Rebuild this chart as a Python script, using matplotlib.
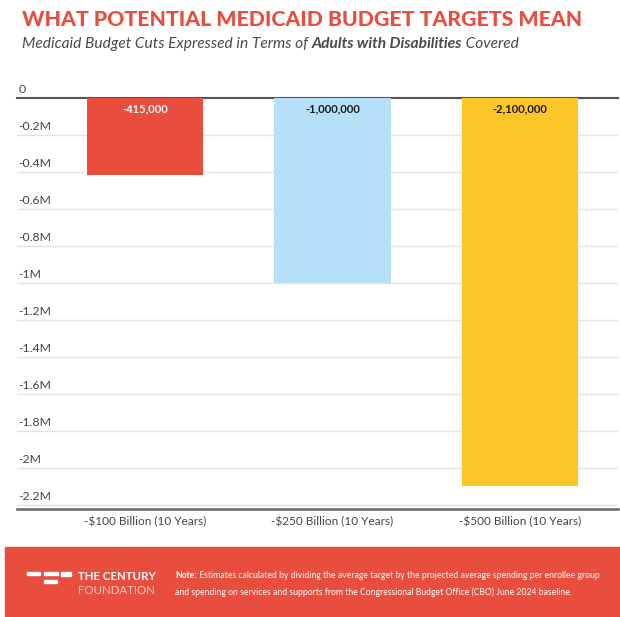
import matplotlib
matplotlib.use("Agg")
import matplotlib.pyplot as plt
from matplotlib.patches import Rectangle
from matplotlib.transforms import blended_transform_factory

# data
categories = ["-$100 Billion (10 Years)", "-$250 Billion (10 Years)", "-$500 Billion (10 Years)"]
values = [-415000, -1000000, -2100000]
value_labels = ["-415,000", "-1,000,000", "-2,100,000"]
bar_colors = ["#E84D3D", "#B5E0F8", "#FDC628"]
label_colors = ["white", "#1a1a1a", "#1a1a1a"]
tick_values = [0, -200000, -400000, -600000, -800000, -1000000, -1200000,
               -1400000, -1600000, -1800000, -2000000, -2200000]
tick_labels = ["0", "-0.2M", "-0.4M", "-0.6M", "-0.8M", "-1M", "-1.2M",
               "-1.4M", "-1.6M", "-1.8M", "-2M", "-2.2M"]

RED = "#E84D3D"
FONT = ["Lato", "DejaVu Sans"]
plt.rcParams["font.family"] = FONT

W, H = 620, 617
fig = plt.figure(figsize=(W / 100, H / 100), dpi=100)
ax = fig.add_axes([17 / W, 1 - 509 / H, (618 - 17) / W, (509 - 98) / H])

x = list(range(len(categories)))
ax.bar(x, values, width=0.62, color=bar_colors, zorder=3)
ax.set_xlim(-0.683, 2.523)
ax.set_ylim(-2.222e6, 0)

for v in tick_values[1:]:
    ax.axhline(v, color="#e3e3e3", lw=1, zorder=1)
trans = blended_transform_factory(ax.transAxes, ax.transData)
for v, lab in zip(tick_values, tick_labels):
    ax.text(0.002, v + 14000, lab, transform=trans, ha="left", va="bottom",
            fontsize=8.8, color="#444444")

for xi, v, lab, c in zip(x, values, value_labels, label_colors):
    ax.text(xi, -60000, lab, ha="center", va="center", fontsize=8,
            fontweight="bold", color=c, zorder=4)

ax.set_yticks([])
ax.set_xticks(x)
ax.set_xticklabels(categories, fontsize=8.5, color="#444444")
ax.tick_params(axis="x", length=0, pad=5)
for s in ["left", "right"]:
    ax.spines[s].set_visible(False)
ax.spines["top"].set_color("#555555")
ax.spines["top"].set_linewidth(1.5)
ax.spines["bottom"].set_color("#666666")
ax.spines["bottom"].set_linewidth(1.8)

# title and subtitle
fig.text(22 / W, 1 - 19 / H, "WHAT POTENTIAL MEDICAID BUDGET TARGETS MEAN",
         fontsize=15.3, fontweight="black", color=RED, va="center")

parts = [("Medicaid Budget Cuts Expressed in Terms of ", "normal"),
         ("Adults with Disabilities", "bold"),
         (" Covered", "normal")]
fig.canvas.draw()
renderer = fig.canvas.get_renderer()
xpos = 22 / W
for txt, wt in parts:
    t = fig.text(xpos, 1 - 44 / H, txt, fontsize=11.2, style="italic",
                 fontweight=wt, color="#4a4a4a", va="center")
    bb = t.get_window_extent(renderer=renderer)
    xpos += bb.width / W

# footer band
fig.patches.append(Rectangle((5 / W, 0), (W - 5) / W, (617 - 547) / H,
                             transform=fig.transFigure, color=RED, zorder=0))
for (x0, x1, y0, y1) in [(27, 40, 572, 575), (44, 58, 572, 575), (61, 71, 572, 576),
                         (44, 57, 580, 583)]:
    fig.patches.append(Rectangle((x0 / W, 1 - y1 / H), (x1 - x0) / W, (y1 - y0) / H,
                                 transform=fig.transFigure, color="white", zorder=1))
fig.text(78 / W, 1 - 576 / H, "THE CENTURY", fontsize=8.3, fontweight="bold",
         color="white", va="center")
fig.text(78 / W, 1 - 590 / H, "FOUNDATION", fontsize=8.3, color="#F8C9C3", va="center")

note_parts = [("Note:", "bold"),
              (" Estimates calculated by dividing the average target by the projected average spending per enrollee group", "normal")]
xpos = 175 / W
for txt, wt in note_parts:
    t = fig.text(xpos, 1 - 575 / H, txt, fontsize=6.2, fontweight=wt,
                 color="white", va="center")
    bb = t.get_window_extent(renderer=renderer)
    xpos += bb.width / W
fig.text(175 / W, 1 - 592 / H,
         "and spending on services and supports from the Congressional Budget Office (CBO) June 2024 baseline.",
         fontsize=6.2, color="white", va="center")

fig.savefig("out.png", dpi=100)
